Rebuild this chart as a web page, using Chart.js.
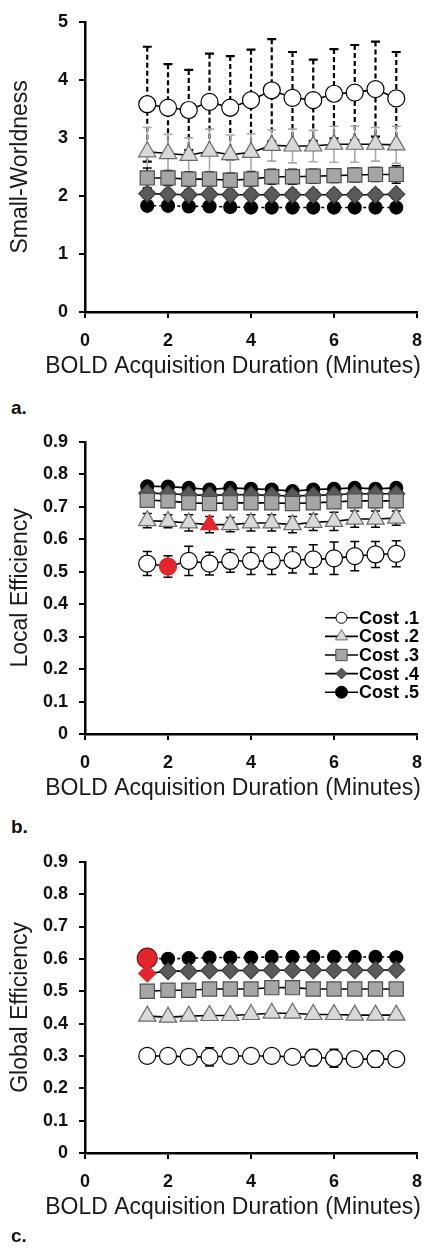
<!DOCTYPE html>
<html>
<head>
<meta charset="utf-8">
<script src="https://cdn.jsdelivr.net/npm/chart.js@4.4.1/dist/chart.umd.min.js"></script>
<style>
  body { margin: 0; background: #fff; width: 434px; height: 1252px; position: relative; overflow: hidden; }
  canvas { position: absolute; left: 0; }
  .tag { position: absolute; left: 11px; font: bold 19px "Liberation Sans Narrow", "Liberation Sans", sans-serif; color: #111; }
</style>
</head>
<body>
<canvas id="chartA" width="434" height="385" style="top:0px"></canvas>
<div class="tag" style="top:397px">a.</div>
<canvas id="chartB" width="434" height="387" style="top:420px"></canvas>
<div class="tag" style="top:816px">b.</div>
<canvas id="chartC" width="434" height="386" style="top:840px"></canvas>
<div class="tag" style="top:1225px">c.</div>

<script>
// x values (minutes) and labels
const minutes = [1.5, 2, 2.5, 3, 3.5, 4, 4.5, 5, 5.5, 6, 6.5, 7, 7.5];
const costLabels = ["Cost .1", "Cost .2", "Cost .3", "Cost .4", "Cost .5"];
const xTicks = [0, 2, 4, 6, 8];
const yTicksSW = [0, 1, 2, 3, 4, 5];
const yTicksEff = [0, 0.1, 0.2, 0.3, 0.4, 0.5, 0.6, 0.7, 0.8, 0.9];
const yLabelsEff = ["0", "0.1", "0.2", "0.3", "0.4", "0.5", "0.6", "0.7", "0.8", "0.9"];

// a. small-worldness (mean, +/- error)
const swCost1 = [3.58, 3.52, 3.48, 3.62, 3.52, 3.65, 3.82, 3.69, 3.65, 3.76, 3.78, 3.84, 3.68];
const swErr1  = [0.99, 0.75, 0.69, 0.83, 0.89, 0.87, 0.88, 0.79, 0.70, 0.77, 0.82, 0.82, 0.80];
const swCost2 = [2.76, 2.73, 2.70, 2.77, 2.71, 2.75, 2.87, 2.86, 2.86, 2.89, 2.89, 2.89, 2.88];
const swErr2  = [0.42, 0.33, 0.30, 0.38, 0.34, 0.32, 0.27, 0.29, 0.27, 0.31, 0.31, 0.29, 0.32];
const swCost3 = [2.31, 2.31, 2.29, 2.29, 2.27, 2.29, 2.33, 2.33, 2.34, 2.35, 2.36, 2.37, 2.37];
const swErr3  = [0.17, 0.13, 0.12, 0.12, 0.12, 0.12, 0.13, 0.13, 0.12, 0.12, 0.12, 0.12, 0.15];
const swCost4 = [2.04, 2.03, 2.02, 2.03, 2.02, 2.02, 2.02, 2.02, 2.02, 2.02, 2.02, 2.02, 2.03];
const swErr4  = [0.08, 0.08, 0.08, 0.08, 0.08, 0.08, 0.08, 0.08, 0.08, 0.08, 0.08, 0.08, 0.08];
const swCost5 = [1.83, 1.83, 1.82, 1.82, 1.81, 1.80, 1.80, 1.80, 1.80, 1.80, 1.80, 1.80, 1.80];
const swErr5  = [0.05, 0.05, 0.05, 0.05, 0.05, 0.05, 0.05, 0.05, 0.05, 0.05, 0.05, 0.05, 0.05];

// b. local efficiency
const leCost1 = [0.525, 0.516, 0.533, 0.525, 0.533, 0.533, 0.533, 0.536, 0.538, 0.541, 0.548, 0.553, 0.555];
const leErr1  = [0.037, 0.033, 0.045, 0.035, 0.035, 0.042, 0.042, 0.040, 0.045, 0.050, 0.045, 0.040, 0.040];
const leCost2 = [0.657, 0.655, 0.650, 0.645, 0.645, 0.650, 0.650, 0.645, 0.652, 0.655, 0.662, 0.662, 0.665];
const leErr2  = [0.022, 0.020, 0.025, 0.025, 0.022, 0.025, 0.025, 0.025, 0.025, 0.028, 0.025, 0.025, 0.022];
const leCost3 = [0.720, 0.718, 0.712, 0.710, 0.712, 0.712, 0.712, 0.710, 0.712, 0.715, 0.718, 0.718, 0.718];
const leErr3  = [0.020, 0.020, 0.020, 0.020, 0.020, 0.020, 0.020, 0.020, 0.020, 0.020, 0.020, 0.020, 0.020];
const leCost4 = [0.742, 0.740, 0.737, 0.735, 0.737, 0.737, 0.735, 0.733, 0.735, 0.737, 0.740, 0.740, 0.740];
const leErr4  = [0.015, 0.015, 0.015, 0.015, 0.015, 0.015, 0.015, 0.015, 0.015, 0.015, 0.015, 0.015, 0.015];
const leCost5 = [0.763, 0.762, 0.758, 0.753, 0.758, 0.755, 0.753, 0.748, 0.753, 0.755, 0.758, 0.755, 0.758];
const leErr5  = [0.012, 0.012, 0.012, 0.012, 0.012, 0.012, 0.012, 0.012, 0.012, 0.012, 0.012, 0.012, 0.012];

// c. global efficiency
const geCost1 = [0.300, 0.300, 0.297, 0.297, 0.300, 0.300, 0.300, 0.297, 0.295, 0.293, 0.290, 0.290, 0.290];
const geErr1  = [0.010, 0.010, 0.020, 0.028, 0.012, 0.015, 0.012, 0.015, 0.025, 0.028, 0.022, 0.025, 0.018];
const geCost2 = [0.423, 0.420, 0.423, 0.425, 0.425, 0.428, 0.432, 0.432, 0.428, 0.428, 0.426, 0.426, 0.426];
const geErr2  = [0.006, 0.006, 0.006, 0.006, 0.006, 0.006, 0.006, 0.006, 0.006, 0.006, 0.006, 0.006, 0.006];
const geCost3 = [0.500, 0.503, 0.503, 0.507, 0.507, 0.507, 0.511, 0.511, 0.507, 0.507, 0.507, 0.507, 0.507];
const geErr3  = [0.006, 0.006, 0.006, 0.006, 0.006, 0.006, 0.006, 0.006, 0.006, 0.006, 0.006, 0.006, 0.006];
const geCost4 = [0.555, 0.562, 0.562, 0.564, 0.564, 0.564, 0.565, 0.565, 0.565, 0.565, 0.565, 0.565, 0.566];
const geErr4  = [0.005, 0.005, 0.005, 0.005, 0.005, 0.005, 0.005, 0.005, 0.005, 0.005, 0.005, 0.005, 0.005];
const geCost5 = [0.602, 0.600, 0.602, 0.604, 0.604, 0.604, 0.606, 0.606, 0.606, 0.606, 0.606, 0.606, 0.605];
const geErr5  = [0.005, 0.005, 0.005, 0.005, 0.005, 0.005, 0.005, 0.005, 0.005, 0.005, 0.005, 0.005, 0.005];

// marker look per cost level
const markers = [
  { pointStyle: "circle",   fill: "#ffffff", edge: "#000000", r: 8.5, lr: 5.5 },
  { pointStyle: "triangle", fill: "#d9d9d9", edge: "#6b6b6b", r: 10,  lr: 7 },
  { pointStyle: "rect",     fill: "#a6a6a6", edge: "#4d4d4d", r: 10,  lr: 8 },
  { pointStyle: "rectRot",  fill: "#5a5a5a", edge: "#404040", r: 8.5, lr: 5.5 },
  { pointStyle: "circle",   fill: "#000000", edge: "#000000", r: 6.5, lr: 6 },
];
const RED = "#e3262b";

const FONT = "Liberation Sans";

// draws +/- error bars from each dataset's errors array
const errorBars = {
  id: "errorBars",
  beforeDatasetsDraw(chart) {
    const { ctx, scales } = chart;
    const x = scales.x, y = scales.y;
    chart.data.datasets.forEach((ds) => {
      if (!ds.errors) return;
      ctx.save();
      ctx.strokeStyle = ds.errorColor || "#000";
      ctx.lineWidth = ds.errorWidth || 1.5;
      const cap = ds.capHalf || 4.5;
      ds.data.forEach((p, j) => {
        const e = ds.errors[j];
        const px = x.getPixelForValue(p.x);
        const top = y.getPixelForValue(p.y + e);
        const bot = y.getPixelForValue(p.y - e);
        ctx.setLineDash(ds.errorDash || []);
        ctx.beginPath();
        ctx.moveTo(px, top);
        ctx.lineTo(px, bot);
        ctx.stroke();
        ctx.setLineDash([]);
        ctx.beginPath();
        ctx.moveTo(px - cap, top);
        ctx.lineTo(px + cap, top);
        ctx.moveTo(px - cap, bot);
        ctx.lineTo(px + cap, bot);
        ctx.stroke();
      });
      ctx.restore();
    });
  },
};

// x axis title, drawn without the axis-width squeeze
const xTitle = {
  id: "xTitle",
  afterDraw(chart, args, opts) {
    const { ctx, chartArea } = chart;
    ctx.save();
    ctx.font = "23px '" + FONT + "'";
    ctx.fillStyle = "#1a1a1a";
    ctx.textAlign = "right";
    ctx.textBaseline = "middle";
    ctx.fillText(opts.text, chartArea.right + 4, chartArea.bottom + opts.offset);
    ctx.restore();
  },
};

// legend inside the plot (panel b only)
const insideLegend = {
  id: "insideLegend",
  afterDraw(chart, args, opts) {
    if (!opts.show) return;
    const { ctx, chartArea } = chart;
    const x0 = chartArea.right - 92;
    const y0 = chartArea.top + 176;
    chart.data.datasets.forEach((ds, i) => {
      const m = markers[i];
      const yy = y0 + i * 18.6;
      ctx.save();
      ctx.strokeStyle = "#000";
      ctx.lineWidth = 1.6;
      ctx.beginPath();
      ctx.moveTo(x0, yy);
      ctx.lineTo(x0 + 33, yy);
      ctx.stroke();
      ctx.fillStyle = m.fill;
      ctx.strokeStyle = m.edge;
      ctx.lineWidth = 1;
      Chart.helpers.drawPoint(ctx, { pointStyle: m.pointStyle, radius: m.lr, borderWidth: 1, rotation: 0 }, x0 + 16.5, yy);
      ctx.fillStyle = "#000";
      ctx.font = "bold 18px '" + FONT + "'";
      ctx.textAlign = "left";
      ctx.textBaseline = "middle";
      ctx.fillText(ds.label, x0 + 34, yy + 1);
      ctx.restore();
    });
  },
};

function makeSets(means, errs, look) {
  return means.map((vals, i) => {
    const m = markers[i];
    const fills = vals.map(() => m.fill);
    const edges = vals.map(() => m.edge);
    const radii = vals.map(() => m.r);
    (look.red || []).forEach(([s, j, r]) => {
      if (s !== i) return;
      fills[j] = RED;
      edges[j] = s === 4 ? "#7a1010" : RED;
      if (r) radii[j] = r;
    });
    return {
      label: costLabels[i],
      data: vals.map((v, j) => ({ x: minutes[j], y: v })),
      errors: errs[i],
      errorColor: (look.errColor || [])[i] || "#000",
      errorDash: (look.errDash || [])[i] || [],
      errorWidth: (look.errWidth || [])[i] || 1.5,
      capHalf: 4.5,
      showLine: true,
      borderColor: "#000",
      borderWidth: 1.6,
      borderDash: (look.lineDash || [])[i] || [],
      pointStyle: m.pointStyle,
      pointRadius: radii,
      pointBackgroundColor: fills,
      pointBorderColor: edges,
      pointBorderWidth: 1.2,
    };
  });
}

function makeChart(id, sets, yTicks, yLabels, yMax, yTitle, padTop, extra) {
  const axisFont = { family: FONT, size: 18, weight: "bold" };
  return new Chart(document.getElementById(id), {
    type: "scatter",
    data: { datasets: sets },
    options: {
      responsive: false,
      animation: false,
      devicePixelRatio: 1,
      layout: { padding: { top: padTop, right: 6, left: 0, bottom: 0 } },
      plugins: {
        legend: { display: false },
        tooltip: { enabled: false },
        xTitle: { text: "BOLD Acquisition Duration (Minutes)", offset: 55 },
        insideLegend: { show: !!extra.legend },
      },
      scales: {
        x: {
          type: "linear",
          min: 0,
          max: 8,
          afterBuildTicks: (s) => { s.ticks = xTicks.map((v) => ({ value: v })); },
          afterFit: (s) => { s.height = 73; },
          ticks: { color: "#111", font: axisFont, padding: 12, callback: (v) => String(v) },
          grid: { drawOnChartArea: false, drawTicks: true, tickLength: 6, color: "#000", lineWidth: 2 },
          border: { display: true, color: "#000", width: 2.5 },
        },
        y: {
          min: 0,
          max: yMax,
          afterBuildTicks: (s) => { s.ticks = yTicks.map((v) => ({ value: v })); },
          afterFit: (s) => { s.width = 85; },
          ticks: { color: "#111", font: axisFont, padding: 11, callback: (v, i) => yLabels[i] },
          grid: { drawOnChartArea: false, drawTicks: true, tickLength: 6, color: "#000", lineWidth: 2 },
          border: { display: true, color: "#000", width: 2.5 },
          title: { display: true, text: yTitle, color: "#1a1a1a", font: { family: FONT, size: 23 }, padding: { top: 7, bottom: 0 } },
        },
      },
    },
    plugins: [errorBars, xTitle, insideLegend],
  });
}

makeChart("chartA",
  makeSets([swCost1, swCost2, swCost3, swCost4, swCost5], [swErr1, swErr2, swErr3, swErr4, swErr5], {
    errColor: ["#000", "#a9a9a9", "#000", "#000", "#000"],
    errDash: [[5, 3], [], [], [], []],
    errWidth: [2.2, 1.6, 1.5, 1.5, 1.5],
    lineDash: [[], [], [], [], [3, 3]],
  }),
  yTicksSW, yTicksSW.map(String), 5, "Small-Worldness", 19, {});

makeChart("chartB",
  makeSets([leCost1, leCost2, leCost3, leCost4, leCost5], [leErr1, leErr2, leErr3, leErr4, leErr5], {
    red: [[0, 1], [1, 3]],
  }),
  yTicksEff, yLabelsEff, 0.9, "Local Efficiency", 15, { legend: true });

makeChart("chartC",
  makeSets([geCost1, geCost2, geCost3, geCost4, geCost5], [geErr1, geErr2, geErr3, geErr4, geErr5], {
    red: [[4, 0, 10], [3, 0]],
    lineDash: [[], [], [], [], [3, 3]],
  }),
  yTicksEff, yLabelsEff, 0.9, "Global Efficiency", 15, {});
</script>
</body>
</html>
